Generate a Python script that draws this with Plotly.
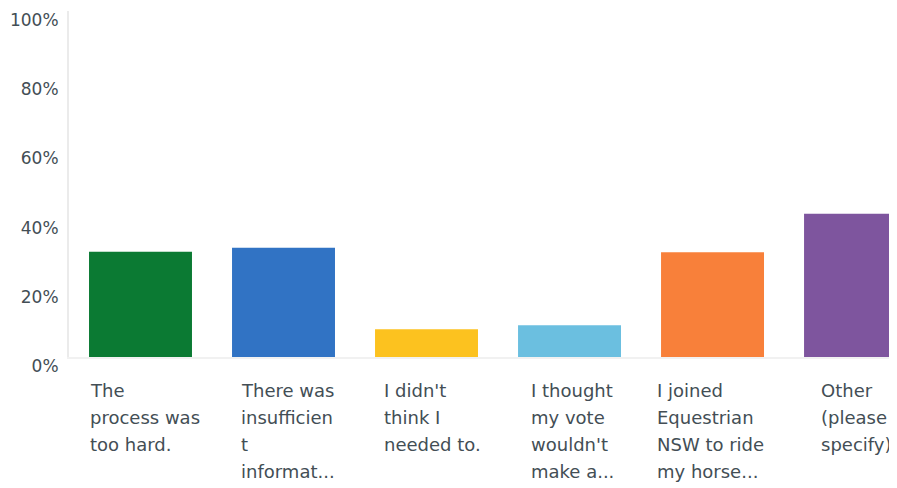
import plotly.graph_objects as go

categories = [
    "The process was too hard.",
    "There was insufficient informat...",
    "I didn't think I needed to.",
    "I thought my vote wouldn't make a...",
    "I joined Equestrian NSW to ride my horse...",
    "Other (please specify)",
]
label_lines = [
    ["The", "process was", "too hard."],
    ["There was", "insufficien", "t", "informat..."],
    ["I didn't", "think I", "needed to."],
    ["I thought", "my vote", "wouldn't", "make a..."],
    ["I joined", "Equestrian", "NSW to ride", "my horse..."],
    ["Other", "(please", "specify)"],
]
values = [30.4, 31.6, 8.0, 9.2, 30.3, 41.4]
colors = ["#0b7a33", "#3173c4", "#fcc21f", "#6bbfe0", "#f8803a", "#7e559e"]
y_tickvals = [0, 20, 40, 60, 80, 100]
y_ticktext = ["0%", "20%", "40%", "60%", "80%", "100%"]

# left edge of each label block relative to its bar centre (px)
label_left_offset = [-53, -45, -45, -41, -58, -37]

TEXT = "#434e55"
FONT = "DejaVu Sans"
LFS = 18
LINE_STEP = 27

fig = go.Figure(go.Bar(
    x=list(range(len(categories))),
    y=values,
    marker=dict(color=colors, line=dict(width=0)),
    hovertext=categories,
))

annotations = []
for i, lines in enumerate(label_lines):
    for k, ln in enumerate(lines):
        annotations.append(dict(
            x=i, y=0, xref="x", yref="paper",
            xanchor="left", yanchor="top", align="left",
            text=ln, showarrow=False,
            yshift=-21 - k * LINE_STEP, xshift=label_left_offset[i],
            font=dict(family=FONT, size=LFS, color=TEXT),
        ))

fig.update_layout(
    width=897, height=480,
    margin=dict(l=61, r=8, t=3, b=131, autoexpand=False),
    paper_bgcolor="white", plot_bgcolor="white",
    showlegend=False, bargap=0.28,
    font=dict(family=FONT, color=TEXT),
    annotations=annotations,
    xaxis=dict(
        range=[-0.5, 5.29], showticklabels=False, showgrid=False,
        zeroline=False, showline=True, linecolor="#f1f1f1", linewidth=2,
        fixedrange=True, automargin=False,
    ),
    yaxis=dict(
        range=[0, 100], tickvals=y_tickvals, ticktext=y_ticktext,
        showgrid=False, zeroline=False, showline=True,
        linecolor="#ebebeb", linewidth=2,
        tickfont=dict(family=FONT, size=17, color=TEXT),
        ticklabelshift=9, ticklabelstandoff=5, automargin=False,
    ),
)

fig.write_html("out.html")
